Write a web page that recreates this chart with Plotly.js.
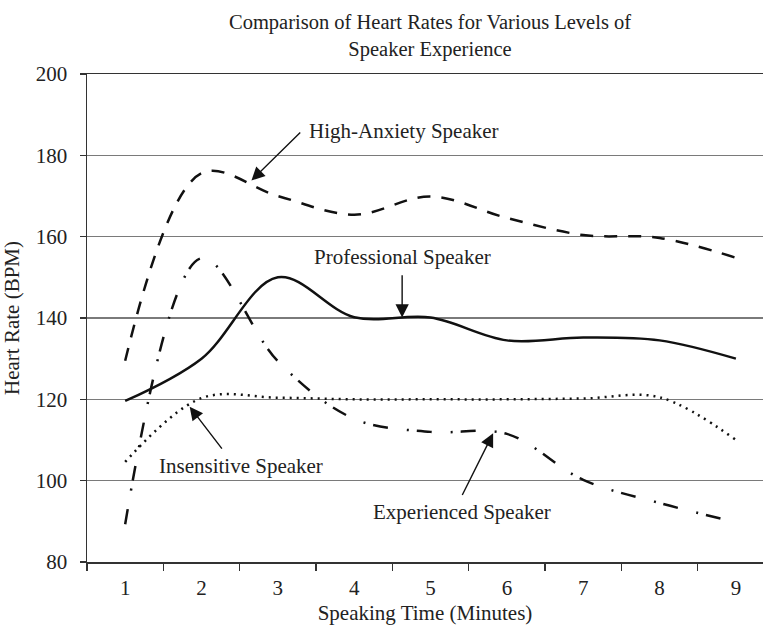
<!DOCTYPE html>
<html>
<head>
<meta charset="utf-8">
<script src="https://cdn.plot.ly/plotly-3.0.1.min.js"></script>
<style>html,body{margin:0;padding:0;background:#fff;}#chart{width:763px;height:625px;}</style>
</head>
<body>
<div id="chart"></div>
<script>
// Speaking time (minutes)
const minutes = [1, 2, 3, 4, 5, 6, 7, 8, 9];
const xTickLabels = ['1', '2', '3', '4', '5', '6', '7', '8', '9'];
// Heart rate (BPM) per speaker type
const highAnxiety  = [129.5, 175.6, 170.0, 165.4, 169.9, 164.6, 160.4, 159.7, 154.8];
const professional = [119.6, 130.0, 150.0, 140.2, 140.1, 134.5, 135.2, 134.5, 130.0];
const insensitive  = [104.6, 120.3, 120.4, 120.0, 120.0, 120.0, 120.2, 120.5, 110.0];
const experienced  = [89.3, 154.7, 129.4, 115.2, 112.0, 111.5, 100.2, 94.5, 89.8];
const seriesNames = ['High-Anxiety Speaker', 'Professional Speaker', 'Insensitive Speaker', 'Experienced Speaker'];
const yTicks = [80, 100, 120, 140, 160, 180, 200];

const FONT = 'Liberation Serif, Times New Roman, serif';
const FS = 21;

function trace(y, name, dash) {
  return {
    x: minutes, y: y, name: name, type: 'scatter', mode: 'lines',
    line: {shape: 'spline', smoothing: 1, color: '#111', width: 2.5, dash: dash},
    hoverinfo: 'skip'
  };
}

const data = [
  trace(highAnxiety, seriesNames[0], '13px,11px'),
  trace(professional, seriesNames[1], 'solid'),
  trace(insensitive, seriesNames[2], '2px,5px'),
  trace(experienced, seriesNames[3], '15px,19px,2px,8px')
];

function label(text, x, y) {
  return {text: text, x: x, y: y, xref: 'x', yref: 'y', showarrow: false,
          xanchor: 'center', yanchor: 'middle', font: {family: FONT, size: FS, color: '#222'}};
}
function arrow(tipX, tipY, tailX, tailY) {
  return {text: '', x: tipX, y: tipY, ax: tailX, ay: tailY, xref: 'x', yref: 'y',
          axref: 'x', ayref: 'y', showarrow: true, arrowhead: 2, arrowsize: 1.9,
          arrowwidth: 1.4, arrowcolor: '#111', standoff: 0, startstandoff: 0};
}

const layout = {
  width: 763, height: 625,
  margin: {l: 87, r: 0, t: 74, b: 63},
  paper_bgcolor: '#fff', plot_bgcolor: '#fff',
  showlegend: false,
  font: {family: FONT, size: FS, color: '#222'},
  title: {
    text: 'Comparison of Heart Rates for Various Levels of<br>Speaker Experience',
    x: 0.5636, xref: 'container', xanchor: 'center',
    y: 0.953, yref: 'container', yanchor: 'top',
    font: {family: FONT, size: 20.5, color: '#222'}
  },
  xaxis: {
    range: [0.5, 9.355], fixedrange: true,
    tickmode: 'array', tickvals: minutes, ticktext: xTickLabels,
    ticks: '', showgrid: false, zeroline: false,
    showline: true, mirror: true, linecolor: '#333', linewidth: 1.5,
    minor: {tick0: 0.5, dtick: 1, ticks: 'outside', ticklen: 7, tickwidth: 1.3, tickcolor: '#333', showgrid: false},
    tickfont: {family: FONT, size: FS, color: '#222'},
    ticklabelstandoff: 6,
    title: {text: 'Speaking Time (Minutes)', standoff: 9, font: {family: FONT, size: FS, color: '#222'}}
  },
  yaxis: {
    range: [80, 200], fixedrange: true,
    tickmode: 'array', tickvals: yTicks,
    ticks: 'outside', ticklen: 6, tickwidth: 1.3, tickcolor: '#333',
    showgrid: true, gridcolor: '#7a7a7a', gridwidth: 1.3, zeroline: false,
    showline: true, linecolor: '#333', linewidth: 1.5,
    tickfont: {family: FONT, size: FS, color: '#222'},
    ticklabelstandoff: 8,
    title: {text: 'Heart Rate (BPM)', standoff: 10, font: {family: FONT, size: FS, color: '#222'}}
  },
  annotations: [
    label(seriesNames[0], 4.65, 185.98),
    label(seriesNames[1], 4.63, 155.0),
    label(seriesNames[2], 2.514, 103.7),
    label(seriesNames[3], 5.41, 92.4),
    arrow(2.654, 173.8, 3.313, 186.0),
    arrow(4.628, 140.1, 4.628, 150.9),
    arrow(1.845, 118.2, 2.282, 107.5),
    arrow(5.82, 111.65, 5.406, 96.1)
  ]
};

Plotly.newPlot('chart', data, layout, {staticPlot: true, displayModeBar: false});
</script>
</body>
</html>
